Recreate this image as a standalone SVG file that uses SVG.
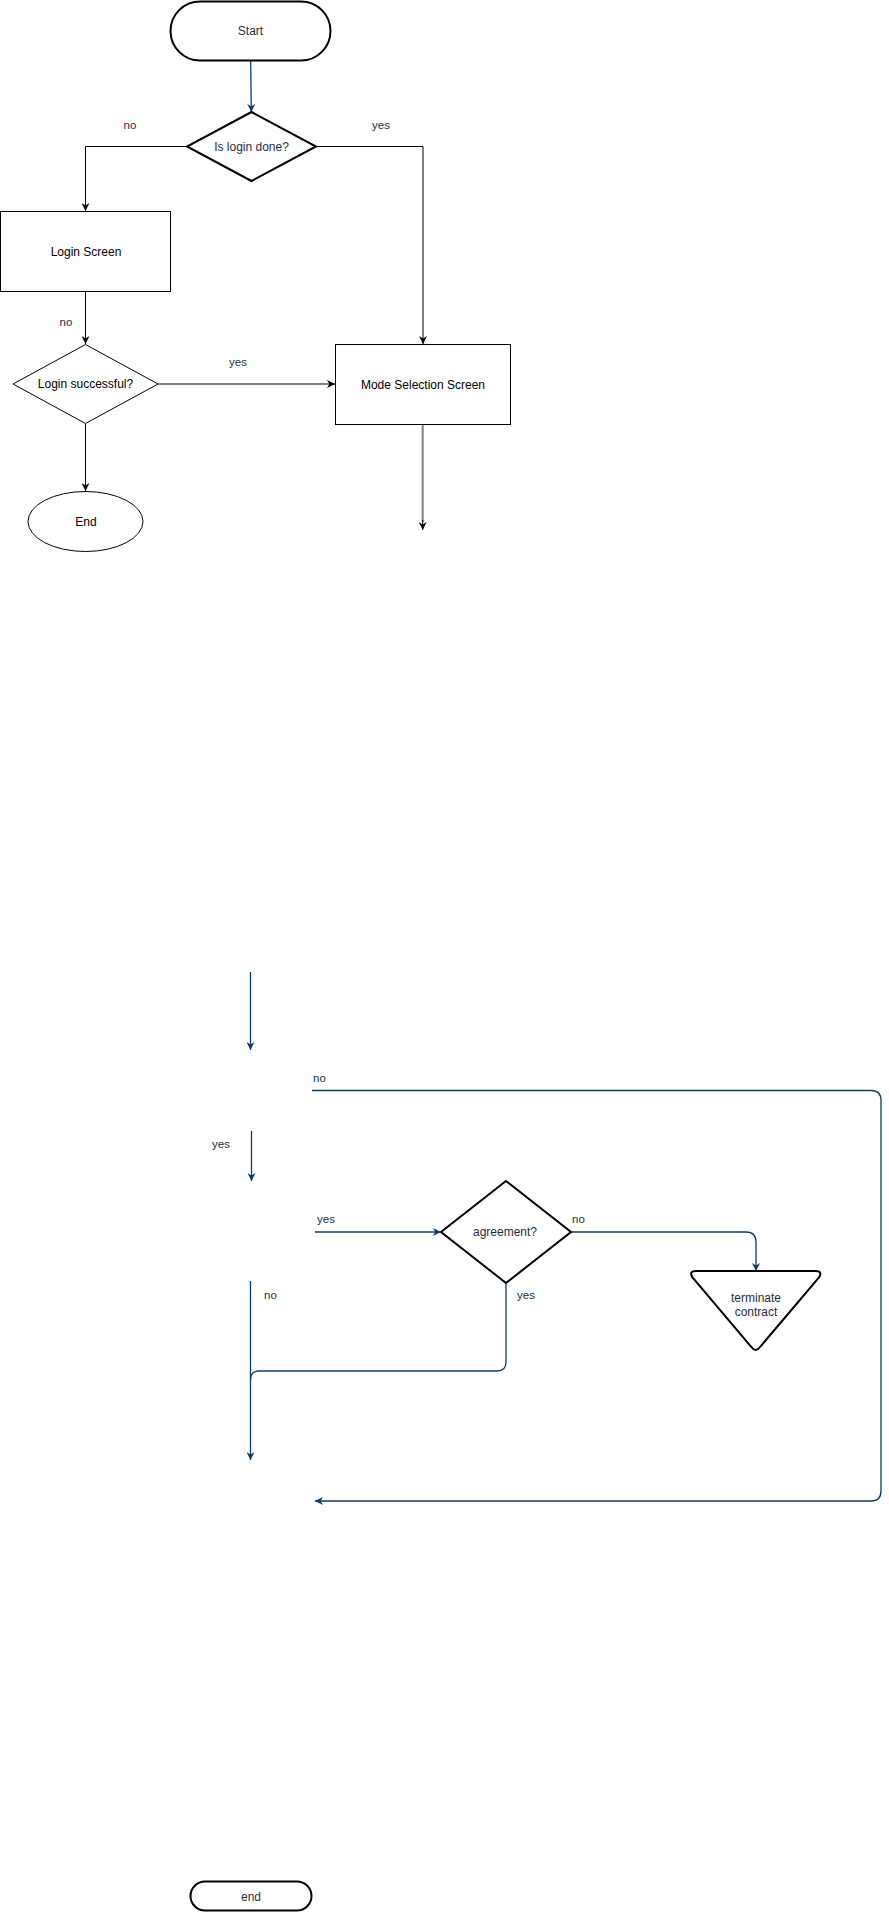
<svg xmlns="http://www.w3.org/2000/svg" width="889" height="1912" viewBox="0 0 889 1912">
<style>
  text { font-family: "Liberation Sans", Arial, sans-serif; font-size: 12px; text-anchor: middle; dominant-baseline: central; }
  .dark { fill: #1f2d44; }
  .blk { fill: #000000; }
  .lbl { font-size: 11.5px; fill: #1f2d44; }
  .lbl-l { font-size: 11.5px; fill: #1f2d44; text-anchor: start; }
  .node-thick { fill: #ffffff; stroke: #000000; stroke-width: 2; }
  .node-thin { fill: #ffffff; stroke: #000000; stroke-width: 1; }
  .c-black { fill: none; stroke: #000000; stroke-width: 1; }
  .c-blue { fill: none; stroke: #0b3a6b; stroke-width: 1.3; }
  .c-gray { fill: none; stroke: #808080; stroke-width: 2; }
</style>
<defs>
  <marker id="ah-black" viewBox="0 0 10 10" refX="10" refY="5" markerWidth="8" markerHeight="8" markerUnits="userSpaceOnUse" orient="auto">
    <path d="M0,0 L10,5 L0,10 L3,5 z" fill="#000000"/>
  </marker>
  <marker id="ah-blue" viewBox="0 0 10 10" refX="10" refY="5" markerWidth="8" markerHeight="8" markerUnits="userSpaceOnUse" orient="auto">
    <path d="M0,0 L10,5 L0,10 L3,5 z" fill="#0b3a6b"/>
  </marker>
</defs>

<g id="connectors">
  <path class="c-blue" d="M250.7,61 L251.3,112" marker-end="url(#ah-blue)"/>
  <path class="c-black" d="M187,146.5 H85.5 V211" marker-end="url(#ah-black)"/>
  <path class="c-black" d="M316,146.5 H423 V344" marker-end="url(#ah-black)"/>
  <path class="c-black" d="M85.5,291 V344" marker-end="url(#ah-black)"/>
  <path class="c-black" d="M158,384 H335" marker-end="url(#ah-black)"/>
  <path class="c-black" d="M85.5,424 V491" marker-end="url(#ah-black)"/>
  <path class="c-gray" d="M422.7,424 V522"/>
  <path class="c-black" d="M422.7,520 V530" marker-end="url(#ah-black)" stroke-width="0.5"/>

  <path class="c-blue" d="M250.5,972 V1050" marker-end="url(#ah-blue)"/>
  <path class="c-blue" d="M251.5,1131 V1181" marker-end="url(#ah-blue)"/>
  <path class="c-blue" d="M312,1090.5 H871 Q881,1090.5 881,1100.5 V1491 Q881,1501 871,1501 H315" marker-end="url(#ah-blue)"/>
  <path class="c-blue" d="M315,1232 H441" marker-end="url(#ah-blue)"/>
  <path class="c-blue" d="M571,1232 H746 Q756,1232 756,1242 V1271" marker-end="url(#ah-blue)"/>
  <path class="c-blue" d="M506,1282 V1362 Q506,1371 497,1371 H259 Q250.5,1371 250.5,1380"/>
  <path class="c-blue" d="M250.5,1281 V1460" marker-end="url(#ah-blue)"/>

  <text class="lbl" x="130" y="125">no</text>
  <text class="lbl" x="381" y="125">yes</text>
  <text class="lbl" x="66" y="322">no</text>
  <text class="lbl" x="238" y="362">yes</text>
  <text class="lbl-l" x="313" y="1078">no</text>
  <text class="lbl" x="221" y="1144">yes</text>
  <text class="lbl-l" x="317" y="1219">yes</text>
  <text class="lbl-l" x="572" y="1219">no</text>
  <text class="lbl-l" x="264" y="1295">no</text>
  <text class="lbl-l" x="517" y="1295">yes</text>
</g>

<g id="start">
  <rect class="node-thick" x="170.5" y="1.5" width="160" height="59" rx="29.5" ry="29.5"/>
  <text class="dark" x="250.5" y="31">Start</text>
</g>

<g id="is-login-done">
  <polygon class="node-thick" points="251.5,112 316,146.5 251.5,181 187,146.5"/>
  <text class="dark" x="251.5" y="146.5">Is login done?</text>
</g>

<g id="login-screen">
  <rect class="node-thin" x="0.5" y="211.5" width="170" height="80"/>
  <text class="blk" x="86" y="251.5">Login Screen</text>
</g>

<g id="login-successful">
  <polygon class="node-thin" points="85.5,344.5 158,384 85.5,423.5 13,384"/>
  <text class="blk" x="85.5" y="384">Login successful?</text>
</g>

<g id="mode-selection">
  <rect class="node-thin" x="335.5" y="344.5" width="175" height="80"/>
  <text class="blk" x="423" y="384.5">Mode Selection Screen</text>
</g>

<g id="end-ellipse">
  <ellipse class="node-thin" cx="85.5" cy="521.5" rx="57.5" ry="30"/>
  <text class="blk" x="86" y="522">End</text>
</g>

<g id="agreement">
  <polygon class="node-thick" points="506,1181 571,1232 506,1283 441,1232"/>
  <text class="dark" x="505" y="1232">agreement?</text>
</g>

<g id="terminate-contract">
  <path class="node-thick" d="M696,1271 H815.5 Q823,1271 819,1277.5 L760,1347 Q755.7,1353 751.4,1347 L692.5,1277.5 Q688.5,1271 696,1271 Z"/>
  <text class="dark" x="756" y="1298">terminate</text>
  <text class="dark" x="756" y="1312">contract</text>
</g>

<g id="end-terminator">
  <rect class="node-thick" x="190.5" y="1881.5" width="121" height="29" rx="14.5" ry="14.5"/>
  <text class="dark" x="251" y="1896.5">end</text>
</g>
</svg>
